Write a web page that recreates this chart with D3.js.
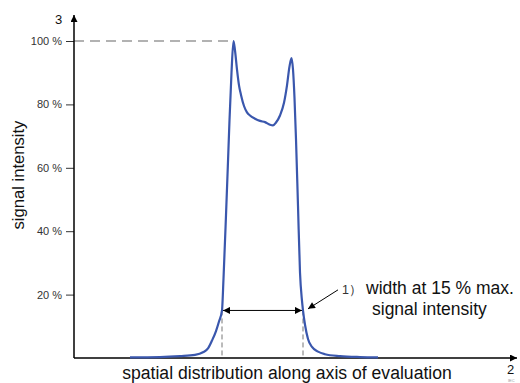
<!DOCTYPE html>
<html>
<head>
<meta charset="utf-8">
<script src="https://cdn.jsdelivr.net/npm/d3@7"></script>
<style>
  body { margin: 0; background: #fff; }
  svg { display: block; font-family: "Liberation Sans", Arial, sans-serif; }
</style>
</head>
<body>
<svg id="plt"></svg>
<script>
// position along axis of evaluation (arbitrary units) and signal intensity (%)
const position = [56, 86, 106, 121, 129, 134, 138, 142, 145, 148, 149.5, 152, 154, 155.5, 157.5, 159.5,
  161, 163, 165, 167, 170, 173, 176, 181, 186, 191, 196, 199, 202, 206, 210, 213, 215.5, 217.5,
  219, 220.5, 222, 224, 226, 228, 229, 231, 234, 238, 244, 251, 266, 286, 304];
const intensity = [0.2, 0.3, 0.6, 1.0, 1.8, 3, 5.5, 8.5, 11.5, 15, 25, 45, 62, 75, 90, 100,
  97, 91, 86, 83, 79.5, 77.5, 76.5, 75.5, 74.8, 74.4, 73.6, 73.4, 74.3, 76.5, 80.5, 86, 92, 94.6,
  91, 82, 69, 48, 27, 18, 15, 10.5, 6, 3.5, 2, 1.2, 0.6, 0.3, 0.2];

const yTicks = [20, 40, 60, 80, 100];
const widthLevel = 15;            // % of max
const widthEdges = [148, 229];    // crossing positions at 15 %
const peakPos = 159.5;

const W = 520, H = 383;
const x = d3.scaleLinear().domain([0, 443]).range([74, 517]);
const y = d3.scaleLinear().domain([0, 100]).range([358, 41]);

const svg = d3.select("#plt").attr("width", W).attr("height", H);

const defs = svg.append("defs");
defs.append("marker").attr("id", "tri")
  .attr("viewBox", "0 0 10 10").attr("refX", 10).attr("refY", 5)
  .attr("markerWidth", 10).attr("markerHeight", 7).attr("markerUnits", "userSpaceOnUse")
  .attr("orient", "auto-start-reverse")
  .append("path").attr("d", "M0,0 L10,5 L0,10 z").attr("fill", "#000");
defs.append("marker").attr("id", "big")
  .attr("viewBox", "0 0 10 10").attr("refX", 10).attr("refY", 5)
  .attr("markerWidth", 15).attr("markerHeight", 7).attr("markerUnits", "userSpaceOnUse")
  .attr("orient", "auto")
  .append("path").attr("d", "M0,0 L10,5 L0,10 z").attr("fill", "#000");

// y axis ticks
const gy = svg.append("g")
  .attr("transform", "translate(" + x(0) + ",0)")
  .call(d3.axisLeft(y).tickValues(yTicks).tickSize(8).tickPadding(4).tickFormat(d => d + " %"));
gy.select(".domain").remove();
gy.selectAll("line").attr("stroke", "#333");
gy.selectAll("text").attr("fill", "#333").style("font-size", "11px");

// dashed reference lines
svg.append("line")
  .attr("x1", x(0)).attr("x2", x(peakPos))
  .attr("y1", y(100)).attr("y2", y(100))
  .attr("stroke", "#666").attr("stroke-width", 1.2).attr("stroke-dasharray", "10,6");
svg.selectAll(".vdash").data(widthEdges).enter().append("line")
  .attr("class", "vdash")
  .attr("x1", d => x(d)).attr("x2", d => x(d))
  .attr("y1", y(widthLevel)).attr("y2", y(0))
  .attr("stroke", "#777").attr("stroke-width", 1).attr("stroke-dasharray", "5,3");

// axes lines with arrows
svg.append("line")
  .attr("x1", x(0)).attr("x2", x(0)).attr("y1", y(0)).attr("y2", y(100) - 26)
  .attr("stroke", "#000").attr("stroke-width", 1.5).attr("marker-end", "url(#big)");
svg.append("line")
  .attr("x1", x(0)).attr("x2", x(443)).attr("y1", y(0)).attr("y2", y(0))
  .attr("stroke", "#000").attr("stroke-width", 1.5).attr("marker-end", "url(#big)");

// curve
const pts = position.map((p, i) => [p, intensity[i]]);
svg.append("path")
  .datum(pts)
  .attr("fill", "none")
  .attr("stroke", "#3a57ad")
  .attr("stroke-width", 2.2)
  .attr("d", d3.line().x(d => x(d[0])).y(d => y(d[1])).curve(d3.curveMonotoneX));

// width double arrow
svg.append("line")
  .attr("x1", x(widthEdges[0]) + 1).attr("x2", x(widthEdges[1]) - 1)
  .attr("y1", y(widthLevel)).attr("y2", y(widthLevel))
  .attr("stroke", "#000").attr("stroke-width", 1)
  .attr("marker-start", "url(#tri)").attr("marker-end", "url(#tri)");

// leader line for note 1)
svg.append("line")
  .attr("x1", x(264)).attr("y1", y(21.5))
  .attr("x2", x(widthEdges[1] + 5)).attr("y2", y(widthLevel + 0.5))
  .attr("stroke", "#000").attr("stroke-width", 1)
  .attr("marker-end", "url(#tri)");

// texts
svg.append("text").attr("x", 342).attr("y", 294).style("font-size", "12.5px").attr("fill", "#333").text("1）");
svg.append("text").attr("x", 366).attr("y", 294).style("font-size", "17.5px").attr("fill", "#111").text("width at 15 % max.");
svg.append("text").attr("x", 372).attr("y", 315).style("font-size", "17.5px").attr("fill", "#111").text("signal intensity");

svg.append("text").attr("x", 55).attr("y", 24).style("font-size", "13px").attr("fill", "#111").text("3");
svg.append("text").attr("x", 507).attr("y", 374).style("font-size", "13px").attr("fill", "#111").text("2");
svg.append("text").attr("x", 508).attr("y", 382).style("font-size", "4px").attr("fill", "#999").text("IEC");

svg.append("text")
  .attr("transform", "translate(24,175) rotate(-90)")
  .attr("text-anchor", "middle")
  .style("font-size", "16.6px").attr("fill", "#111")
  .text("signal intensity");
svg.append("text")
  .attr("x", 287).attr("y", 379)
  .attr("text-anchor", "middle")
  .style("font-size", "17.6px").attr("fill", "#111")
  .text("spatial distribution along axis of evaluation");
</script>
</body>
</html>
